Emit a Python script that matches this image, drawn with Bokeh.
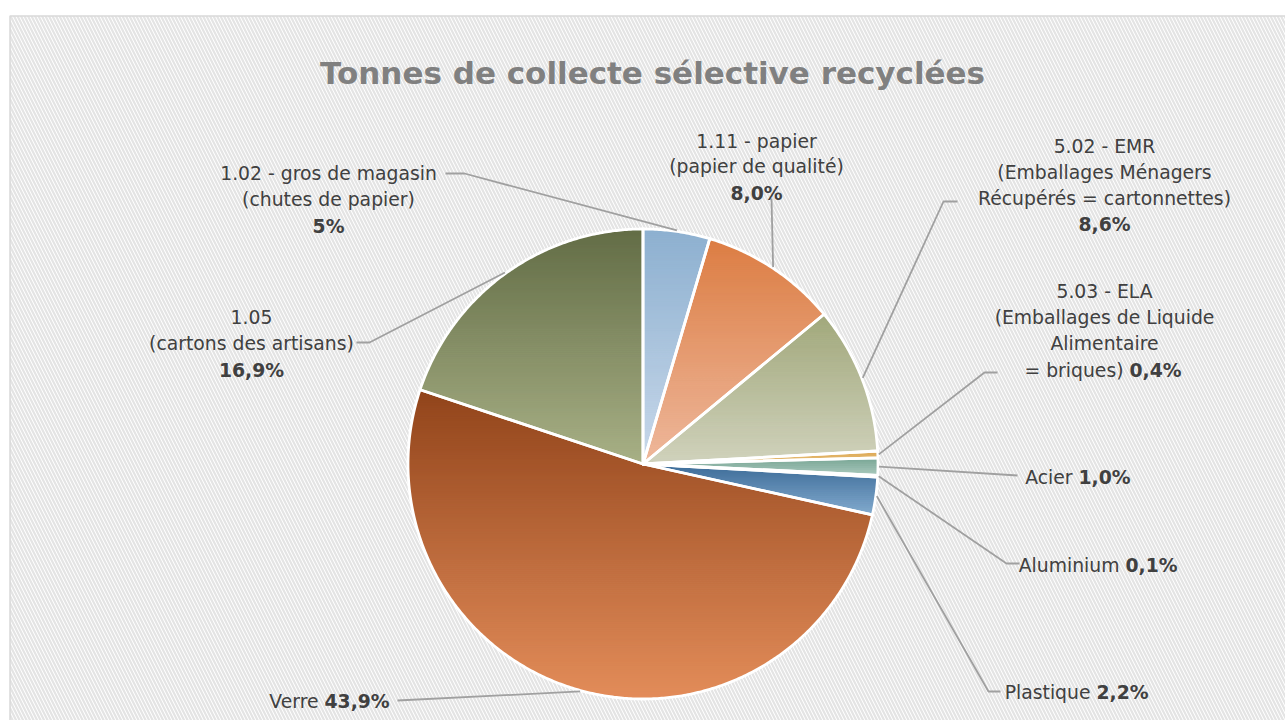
import numpy as np
from bokeh.plotting import figure
from bokeh.models import Range1d
from bokeh.core.properties import value
from bokeh.embed import file_html
from bokeh.resources import INLINE

# ---------------- data ----------------
categories = ["1.02 - gros de magasin", "1.11 - papier", "5.02 - EMR", "5.03 - ELA",
              "Acier", "Aluminium", "Plastique", "Verre", "1.05"]
values = [3.9, 8.0, 8.6, 0.4, 1.0, 0.1, 2.2, 43.9, 16.9]
pct_labels = ["5%", "8,0%", "8,6%", "0,4%", "1,0%", "0,1%", "2,2%", "43,9%", "16,9%"]
title_text = "Tonnes de collecte sélective recyclées"

# gradient colours (top, bottom) per slice
top_colors = ["#8DB0D0", "#DC7D43", "#A1A87B", "#DCA550", "#76A392", "#8AA0B8", "#3C6B97", "#91441B", "#636D46"]
bot_colors = ["#C8D8EA", "#EEB89C", "#D0D2BC", "#E8C27E", "#A8C8BC", "#AFC0D0", "#82AACE", "#E38D5A", "#A8B086"]

# ---------------- layout ----------------
W, H = 1285, 720
CX, CY, R = 642.5, 463.5, 235.0
FONT = "DejaVu Sans"
TXT = "#404040"
LEAD = "#A0A0A0"
FS = "18.8px"

label_layout = [
    dict(kind="block", cx=328, base=[173, 199, 226], lines=["1.02 - gros de magasin", "(chutes de papier)"]),
    dict(kind="block", cx=756, base=[141, 166, 193], lines=["1.11 - papier", "(papier de qualité)"]),
    dict(kind="block", cx=1104, base=[146, 172, 198, 224],
         lines=["5.02 - EMR", "(Emballages Ménagers", "Récupérés = cartonnettes)"]),
    dict(kind="block_inline", cx=1104, base=[291, 317, 343], lines=["5.03 - ELA", "(Emballages de Liquide", "Alimentaire"],
         inline="= briques)", split=1126, ib=370),
    dict(kind="inline", inline="Acier", split=1075, ib=477),
    dict(kind="inline", inline="Aluminium", split=1122, ib=565),
    dict(kind="inline", inline="Plastique", split=1093, ib=692),
    dict(kind="inline", inline="Verre", split=321, ib=701),
    dict(kind="block", cx=251, base=[316, 343, 370], lines=["1.05", "(cartons des artisans)"]),
]
leader_pts = [
    [(445, 173), (464, 173)],
    [(771, 198)],
    [(957, 201), (943, 201)],
    [(997, 372), (984, 372)],
    [(1017, 475)],
    [(1019, 563), (1006, 563)],
    [(1000, 691), (988, 691)],
    [(397, 700)],
    [(356, 342), (369, 342)],
]

# ---------------- helpers ----------------
def hex2rgb(h):
    h = h.lstrip("#")
    return np.array([int(h[i:i + 2], 16) for i in (0, 2, 4)], dtype=float)

def mix(c1, c2, t):
    c = hex2rgb(c1) * (1 - t) + hex2rgb(c2) * t
    return "#%02x%02x%02x" % tuple(int(round(v)) for v in c)

def pt(theta, r):
    return (CX + r * np.sin(theta), CY - r * np.cos(theta))

def clip(pts, inside, inter):
    out = []
    n = len(pts)
    for i in range(n):
        cur, prev = pts[i], pts[i - 1]
        if inside(cur):
            if not inside(prev):
                out.append(inter(prev, cur))
            out.append(cur)
        elif inside(prev):
            out.append(inter(prev, cur))
    return out

def hcut(yc):
    def f(a, b):
        t = (yc - a[1]) / (b[1] - a[1])
        return (a[0] + t * (b[0] - a[0]), yc)
    return f

def band(poly, ylo, yhi):
    p1 = clip(poly, lambda q: q[1] >= ylo, hcut(ylo))
    if len(p1) < 3:
        return []
    return clip(p1, lambda q: q[1] <= yhi, hcut(yhi))

# ---------------- figure ----------------
p = figure(width=W, height=H, x_range=Range1d(0, W), y_range=Range1d(H, 0),
           x_axis_type=None, y_axis_type=None, toolbar_location=None, output_backend="svg",
           min_border=0)
p.outline_line_color = None
p.background_fill_color = "white"
p.border_fill_color = "white"
p.xgrid.visible = False
p.ygrid.visible = False

# hatched chart area
p.quad(left=9.5, right=1320, top=15.5, bottom=760, fill_color="white",
       hatch_pattern="left_diagonal_line", hatch_color="#E4E4E4", hatch_scale=7, hatch_weight=2.2,
       line_color="#D9D9D9", line_width=1.5)

total = float(sum(values))
cum = np.concatenate([[0], np.cumsum(values)]) / total * 2 * np.pi

band_xs, band_ys, band_cols = [], [], []
out_xs, out_ys = [], []
mids = []
for i, v in enumerate(values):
    a0, a1 = cum[i], cum[i + 1]
    n = max(3, int(np.degrees(a1 - a0) / 0.5) + 2)
    th = np.linspace(a0, a1, n)
    poly = [(CX, CY)] + [pt(t, R) for t in th]
    out_xs.append([q[0] for q in poly])
    out_ys.append([q[1] for q in poly])
    mids.append((a0 + a1) / 2)
    ys = [q[1] for q in poly]
    ymin, ymax = min(ys), max(ys)
    nb = max(2, int((ymax - ymin) / 2))
    edges = np.linspace(ymin, ymax, nb + 1)
    for k in range(nb):
        bp = band(poly, edges[k] - 0.3, edges[k + 1] + 0.3)
        if len(bp) < 3:
            continue
        t = (k + 0.5) / nb
        band_xs.append([q[0] for q in bp])
        band_ys.append([q[1] for q in bp])
        band_cols.append(mix(top_colors[i], bot_colors[i], t))

p.patches(band_xs, band_ys, fill_color=band_cols, line_color=band_cols, line_width=0.8)
p.patches(out_xs, out_ys, fill_alpha=0, line_color="white", line_width=2.8, line_join="round")

# leader lines
lx, ly = [], []
for i, pts in enumerate(leader_pts):
    e = pt(mids[i], R + 1)
    lx.append([q[0] for q in pts] + [e[0]])
    ly.append([q[1] for q in pts] + [e[1]])
p.multi_line(lx, ly, line_color=LEAD, line_width=1.8)

# title
p.text(x=[652], y=[72], text=[title_text], text_align="center", text_baseline="alphabetic",
       text_font=value(FONT), text_font_style="bold", text_font_size="31px", text_color="#808080")

# labels
for i, L in enumerate(label_layout):
    if L["kind"] in ("block", "block_inline"):
        nl = len(L["lines"])
        p.text(x=[L["cx"]] * nl, y=L["base"][:nl], text=L["lines"], text_align="center",
               text_baseline="alphabetic", text_font=value(FONT), text_font_size=FS, text_color=TXT)
        if L["kind"] == "block":
            p.text(x=[L["cx"]], y=[L["base"][nl]], text=[pct_labels[i]], text_align="center",
                   text_baseline="alphabetic", text_font=value(FONT), text_font_style="bold",
                   text_font_size=FS, text_color=TXT)
    if L["kind"] in ("inline", "block_inline"):
        p.text(x=[L["split"] - 3], y=[L["ib"]], text=[L["inline"]], text_align="right",
               text_baseline="alphabetic", text_font=value(FONT), text_font_size=FS, text_color=TXT)
        p.text(x=[L["split"] + 3], y=[L["ib"]], text=[pct_labels[i]], text_align="left",
               text_baseline="alphabetic", text_font=value(FONT), text_font_style="bold",
               text_font_size=FS, text_color=TXT)

open("out.html", "w").write(file_html(p, INLINE))
